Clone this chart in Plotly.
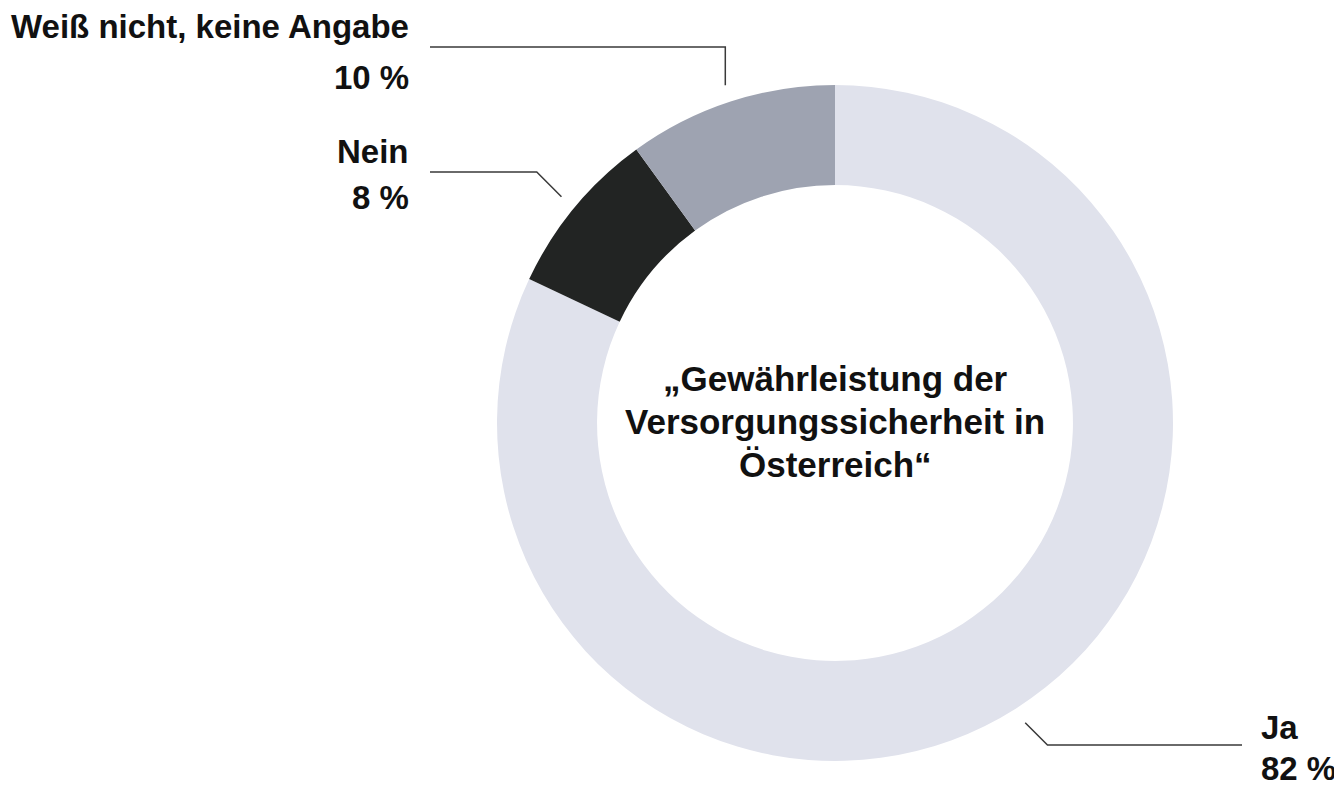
import math
import plotly.graph_objects as go

# survey answers, in order clockwise from 12 o'clock
labels = ["Ja", "Nein", "Weiß nicht, keine Angabe"]
values = [82, 8, 10]
pct_text = ["82 %", "8 %", "10 %"]
colors = ["#e0e2ec", "#222423", "#9ea3b1"]
center_lines = ["„Gewährleistung der", "Versorgungssicherheit in", "Österreich“"]

# page body has an 8px margin, so the figure is shrunk by that and coords shifted
OFF = 8
W, H = 1342 - OFF, 788 - OFF
CX, CY, R = 835, 423, 338  # pie centre / outer radius in screen px
FONT = "Liberation Sans, Arial, Helvetica, sans-serif"
FS_LABEL = 33
FS_CENTER = 35


def px(x):
    return (x - OFF) / W


def py(y):
    return 1 - (y - OFF) / H


fig = go.Figure(go.Pie(
    labels=labels,
    values=values,
    hole=0.704,
    sort=False,
    direction="clockwise",
    rotation=0,
    textinfo="none",
    hoverinfo="label+percent",
    marker=dict(colors=colors, line=dict(width=0)),
    showlegend=False,
    domain=dict(x=[px(CX - R), px(CX + R)], y=[py(CY + R), py(CY - R)]),
))

# leader lines + labels: (elbow y, end x, slanted?, text x, anchor, name y, pct y)
leaders = {
    "Ja": (745, 1242, True, 1259, "left", 727, 768),
    "Nein": (172, 430, True, 411, "right", 151, 197),
    "Weiß nicht, keine Angabe": (47, 430, False, 411, "right", 26, 77),
}

shapes = []
annotations = []
total = sum(values)
cum = 0
for lab, v, pt in zip(labels, values, pct_text):
    mid = (cum + v / 2) / total * 2 * math.pi
    cum += v
    sx = CX + 355 * math.sin(mid)
    sy = CY - 355 * math.cos(mid)
    ey, endx, slant, tx, anchor, ny, pyy = leaders[lab]
    ex = sx + (math.copysign(abs(ey - sy), endx - sx) if slant else 0)
    path = f"M {px(sx)},{py(sy)} L {px(ex)},{py(ey)} L {px(endx)},{py(ey)}"
    shapes.append(dict(type="path", path=path, xref="paper", yref="paper",
                       line=dict(color="#3a3a3a", width=1.5)))
    for txt, yy in [(lab, ny), (pt, pyy)]:
        annotations.append(dict(text=txt, x=px(tx), y=py(yy), xref="paper", yref="paper",
                                xanchor=anchor, yanchor="middle", showarrow=False,
                                font=dict(family=FONT, size=FS_LABEL, color="#111111", weight=700)))

for i, line in enumerate(center_lines):
    annotations.append(dict(text=line, x=px(CX), y=py(378 + 43 * i), xref="paper", yref="paper",
                            xanchor="center", yanchor="middle", showarrow=False,
                            font=dict(family=FONT, size=FS_CENTER, color="#111111", weight=700)))

fig.update_layout(
    width=W, height=H,
    margin=dict(l=0, r=0, t=0, b=0),
    paper_bgcolor="white",
    plot_bgcolor="white",
    shapes=shapes,
    annotations=annotations,
)

fig.write_html("out.html")
